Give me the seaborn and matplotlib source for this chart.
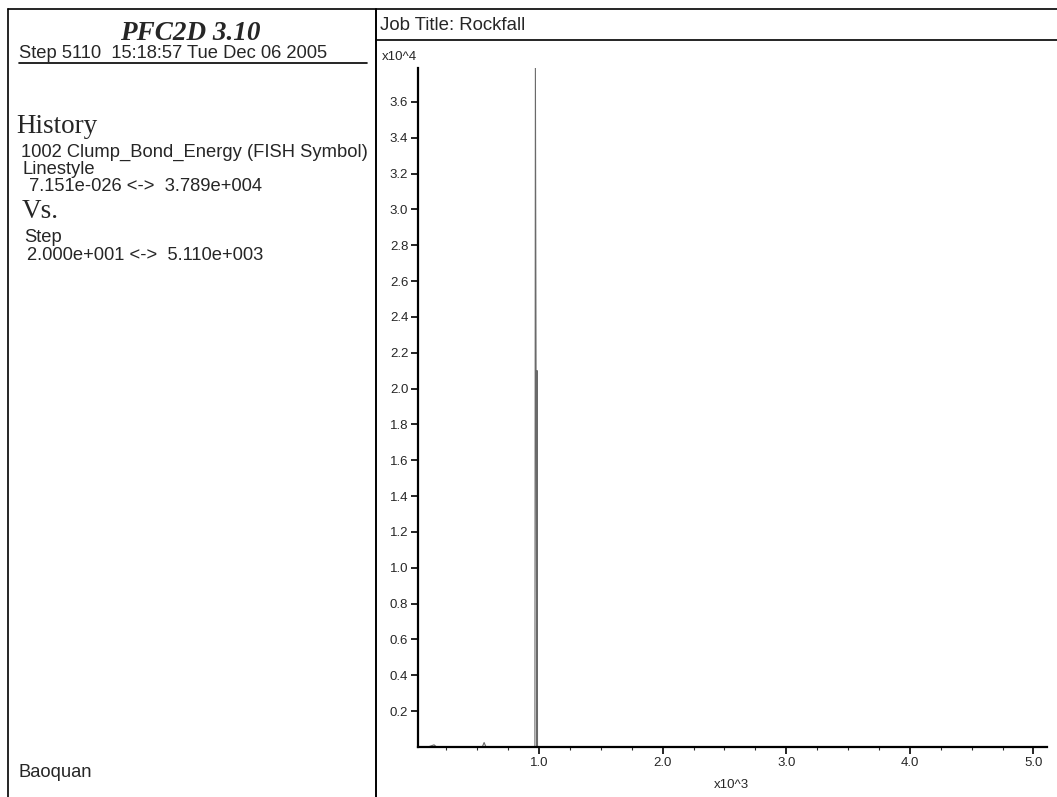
import numpy as np
import pandas as pd
import seaborn as sns
import matplotlib.pyplot as plt
from matplotlib.lines import Line2D
from matplotlib.ticker import MultipleLocator

# history 1002 Clump_Bond_Energy vs Step
steps = [20, 100, 150, 170, 200, 400, 540, 555, 570, 600, 900, 960, 966, 970, 982, 984, 987, 1000, 1100, 1500, 2000, 3000, 4000, 5000, 5110]
energy = [0, 0, 120, 0, 0, 0, 0, 250, 0, 0, 0, 0, 0, 37890, 0, 21000, 0, 0, 0, 0, 0, 0, 0, 0, 0]
yticks = [2000 * i for i in range(1, 19)]
xticks = [1000, 2000, 3000, 4000, 5000]

W, H = 1057, 797
sns.set_style("ticks")
plt.rcParams['font.family'] = ['Liberation Sans', 'DejaVu Sans']

fig = plt.figure(figsize=(W / 100, H / 100), dpi=100)

def fx(x):
    return x / W

def fy(y):
    return 1 - y / H

def hline(x0, x1, y, lw=1.2):
    fig.add_artist(Line2D([fx(x0), fx(x1)], [fy(y), fy(y)], color='black', lw=lw, transform=fig.transFigure))

def vline(x, y0, y1, lw=1.2):
    fig.add_artist(Line2D([fx(x), fx(x)], [fy(y0), fy(y1)], color='black', lw=lw, transform=fig.transFigure))

def txt(x, y, s, size, **kw):
    fig.text(fx(x), fy(y), s, fontsize=size, va='baseline', **kw)

# frame
hline(8, W, 9)
vline(8, 9, H)
vline(376, 9, H, lw=1.4)
hline(376, W, 40)
hline(19, 367, 63)

# left info panel
txt(190, 40, 'PFC2D 3.10', 19.5, family='Liberation Serif', fontweight='bold', style='italic', ha='center')
txt(19, 58, 'Step 5110  15:18:57 Tue Dec 06 2005', 13.2)
txt(16, 133, 'History', 19.5, family='Liberation Serif')
txt(21, 157, '1002 Clump_Bond_Energy (FISH Symbol)', 13.2)
txt(23, 174, 'Linestyle', 13.2)
txt(29, 191, '7.151e-026 <->  3.789e+004', 13.2)
txt(22, 218, 'Vs.', 19.5, family='Liberation Serif')
txt(24, 242, 'Step', 13.2)
txt(27, 260, '2.000e+001 <->  5.110e+003', 13.2)
txt(18, 777, 'Baoquan', 13.2)

# right panel
txt(380, 30, 'Job Title: Rockfall', 13.4)
txt(382, 60, 'x10^4', 9.5)
txt(731, 788, 'x10^3', 9.5, ha='center')

ax = fig.add_axes([fx(418), fy(747), fx(1047) - fx(418), fy(68) - fy(747)])
df = pd.DataFrame({'Step': steps, 'Energy': energy})
sns.lineplot(data=df, x='Step', y='Energy', ax=ax, color='#6a6a6a', lw=0.8, estimator=None, sort=False)

ax.set_xlim(20, 5110)
ax.set_ylim(0, 37890)
ax.set_xticks(xticks)
ax.set_xticklabels([f'{v / 1000:.1f}' for v in xticks])
ax.set_yticks(yticks)
ax.set_yticklabels([f'{v / 10000:.1f}' for v in yticks])
ax.xaxis.set_minor_locator(MultipleLocator(250))
ax.tick_params(axis='both', labelsize=9.5, direction='out', length=5, width=1.2, color='black', pad=2)
ax.tick_params(axis='x', which='minor', length=2, width=0.8)
ax.set_xlabel('')
ax.set_ylabel('')
for s in ['top', 'right']:
    ax.spines[s].set_visible(False)
for s in ['left', 'bottom']:
    ax.spines[s].set_linewidth(1.6)
    ax.spines[s].set_color('black')

fig.savefig('out.png', dpi=100)
